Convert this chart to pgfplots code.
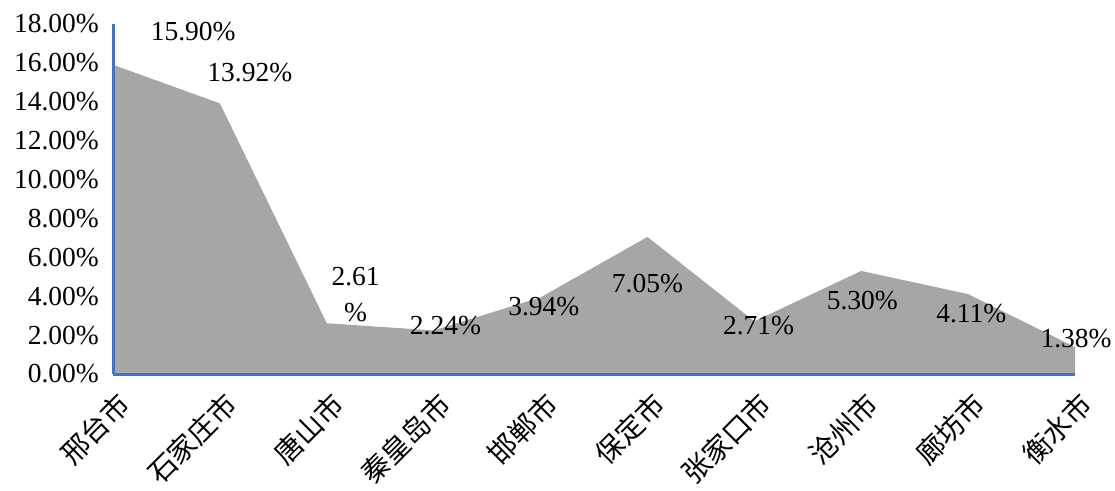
\documentclass[border=0pt]{standalone}
\usepackage{pgfplots}
\pgfplotsset{compat=1.18}
\usepackage{fontspec}
\setmainfont{Liberation Serif}
\newfontfamily\cjk{Noto Sans CJK SC}
\definecolor{axblue}{RGB}{68,114,196}
\definecolor{areagray}{RGB}{166,166,166}

\begin{document}
\begin{tikzpicture}
\begin{axis}[
  scale only axis,
  width=962pt, height=350pt,
  xmin=0, xmax=9,
  ymin=0, ymax=18,
  axis on top,
  axis x line=bottom, axis y line=left,
  axis line style={axblue, line width=3pt, -},
  xtick={0,...,9},
  xticklabels={邢台市,石家庄市,唐山市,秦皇岛市,邯郸市,保定市,张家口市,沧州市,廊坊市,衡水市},
  xticklabel style={font=\cjk\fontsize{28}{32}\selectfont, anchor=east, xshift=12pt, yshift=-25pt, rotate=45, inner sep=0pt},
  ytick={0,2,...,18},
  yticklabel={\pgfmathprintnumber[fixed,zerofill,precision=2]{\tick}\%},
  yticklabel style={font=\fontsize{27.5}{30}\selectfont, xshift=-14pt, inner sep=0pt},
  /pgf/number format/assume math mode=true,
  major tick length=0pt,
  tick style={draw=none},
  clip=false,
]
\addplot[fill=areagray, draw=none] coordinates {
  (0,15.90) (1,13.92) (2,2.61) (3,2.24) (4,3.94)
  (5,7.05) (6,2.71) (7,5.30) (8,4.11) (9,1.38)
} \closedcycle;

% data labels
\addplot[draw=none, mark=none,
  nodes near coords,
  point meta=explicit symbolic,
  nodes near coords style={anchor=center, align=center, font=\fontsize{27.5}{36}\selectfont, inner sep=0pt},
] coordinates {
  (0.75,17.6) [15.90\%]
  (1.28,15.5) [13.92\%]
  (2.27,4.1) [{2.61\\\%}]
  (3.11,2.5) [2.24\%]
  (4.03,3.45) [3.94\%]
  (5.00,4.63) [7.05\%]
  (6.04,2.5) [2.71\%]
  (7.01,3.8) [5.30\%]
  (8.03,3.09) [4.11\%]
  (9.01,1.8) [1.38\%]
};
\coordinate (ll) at (rel axis cs:0,0);
\coordinate (ur) at (rel axis cs:1,1);
\end{axis}
\pgfresetboundingbox
\path[use as bounding box] ([shift={(-113pt,-116pt)}]ll) rectangle ([shift={(40pt,24pt)}]ur);
\end{tikzpicture}
\end{document}
